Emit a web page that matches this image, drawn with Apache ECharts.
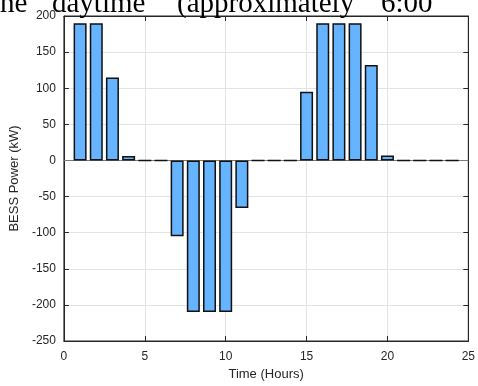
<!DOCTYPE html>
<html>
<head>
    <meta charset="UTF-8">
    <title>BESS Power</title>
    <script src="https://cdn.jsdelivr.net/npm/echarts@6/dist/echarts.min.js"></script>
    <style>
        html, body { margin: 0; padding: 0; background: #fff; }
        #main { width: 478px; height: 386px; }
    </style>
</head>
<body>
    <div id="main"></div>
    <script type="text/javascript">
        // hour of the day and battery power (kW)
        var hours = [1, 2, 3, 4, 5, 6, 7, 8, 9, 10, 11, 12, 13, 14, 15, 16, 17, 18, 19, 20, 21, 22, 23, 24];
        var power = [190, 190, 115, 6, 0, 0, -105, -210, -210, -210, -66, 0, 0, 0, 95, 190, 190, 190, 132, 7, 0, 0, 0, 0];
        var xTicks = [0, 5, 10, 15, 20, 25];
        var yTicks = [-250, -200, -150, -100, -50, 0, 50, 100, 150, 200];
        // cropped line of document text above the figure
        var headerWords = ['the', 'daytime', '(approximately', '6:00'];
        var headerX = [-8, 52, 177, 381];

        var myChart = echarts.init(document.getElementById('main'));
        var axisColor = '#262626';
        var gridColor = '#e3e3e3';

        var barData = [];
        for (var i = 0; i < hours.length; i++) {
            barData.push([hours[i], power[i]]);
        }

        var header = [];
        for (var j = 0; j < headerWords.length; j++) {
            header.push({
                type: 'text',
                left: headerX[j],
                top: -10,
                z: 10,
                style: {
                    text: headerWords[j],
                    fontFamily: 'Liberation Serif',
                    fontSize: 29,
                    fill: '#000'
                }
            });
        }

        var option = {
            animation: false,
            graphic: header,
            grid: {
                left: 62,
                right: 4,
                top: 16,
                bottom: 42,
                show: true,
                borderColor: axisColor,
                borderWidth: 1
            },
            xAxis: [{
                type: 'value',
                min: xTicks[0],
                max: xTicks[xTicks.length - 1],
                interval: 5,
                name: 'Time (Hours)',
                nameLocation: 'middle',
                nameGap: 27,
                nameTextStyle: { fontFamily: 'Liberation Sans', fontSize: 13, color: axisColor },
                axisLine: { show: true, onZero: false, lineStyle: { color: axisColor } },
                axisTick: { show: true, inside: true, length: 5, lineStyle: { color: axisColor } },
                axisLabel: { fontFamily: 'Liberation Sans', fontSize: 12, color: axisColor, margin: 10 },
                splitLine: { show: true, lineStyle: { color: gridColor } }
            }, {
                type: 'value',
                position: 'top',
                min: xTicks[0],
                max: xTicks[xTicks.length - 1],
                interval: 5,
                axisLine: { show: true, onZero: false, lineStyle: { color: axisColor } },
                axisTick: { show: true, inside: true, length: 5, lineStyle: { color: axisColor } },
                axisLabel: { show: false },
                splitLine: { show: false }
            }],
            yAxis: [{
                type: 'value',
                min: yTicks[0],
                max: yTicks[yTicks.length - 1],
                interval: 50,
                name: 'BESS Power (kW)',
                nameLocation: 'middle',
                nameRotate: 90,
                nameGap: 35,
                nameTextStyle: { fontFamily: 'Liberation Sans', fontSize: 13, color: axisColor },
                axisLine: { show: true, onZero: false, lineStyle: { color: axisColor } },
                axisTick: { show: true, inside: true, length: 5, lineStyle: { color: axisColor } },
                axisLabel: { fontFamily: 'Liberation Sans', fontSize: 12, color: axisColor, margin: 8 },
                splitLine: { show: true, lineStyle: { color: gridColor } }
            }, {
                type: 'value',
                position: 'right',
                min: yTicks[0],
                max: yTicks[yTicks.length - 1],
                interval: 50,
                axisLine: { show: true, onZero: false, lineStyle: { color: axisColor } },
                axisTick: { show: true, inside: true, length: 5, lineStyle: { color: axisColor } },
                axisLabel: { show: false },
                splitLine: { show: false }
            }],
            series: [{
                type: 'bar',
                data: barData,
                barWidth: 13,
                z: 3,
                itemStyle: {
                    color: '#66b3ff',
                    borderColor: '#111',
                    borderWidth: 1.5
                },
                markLine: {
                    silent: true,
                    symbol: 'none',
                    z: 1,
                    label: { show: false },
                    lineStyle: { color: '#7a7a7a', type: 'solid', width: 1 },
                    data: [{ yAxis: 0 }]
                }
            }]
        };

        myChart.setOption(option);
    </script>
</body>
</html>
